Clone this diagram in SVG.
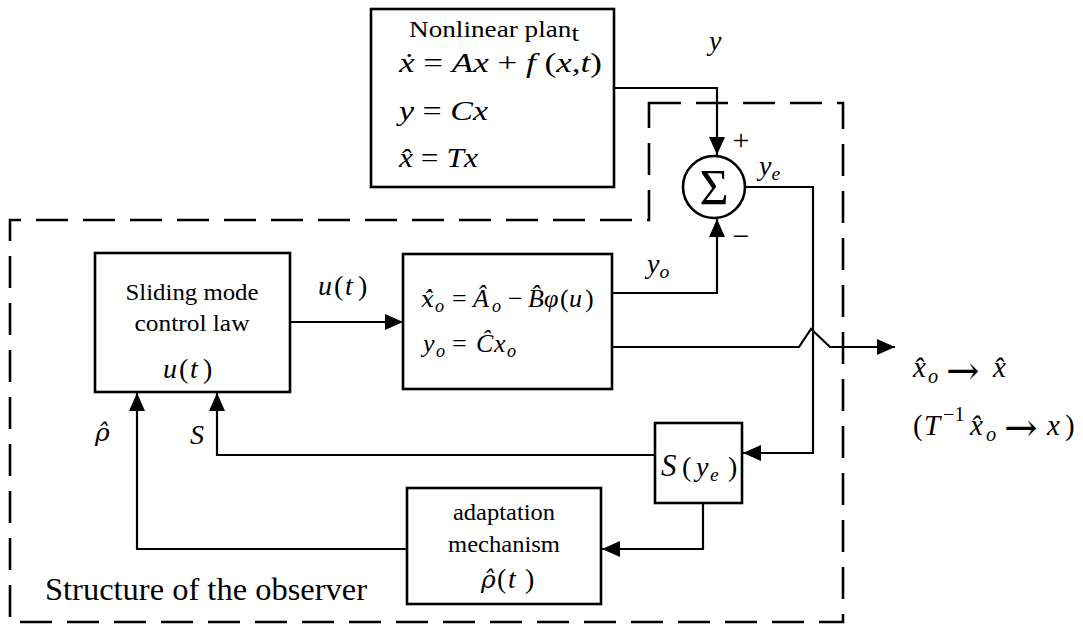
<svg xmlns="http://www.w3.org/2000/svg" width="1083" height="625" viewBox="0 0 1083 625">
<style>
.box{fill:#fff;stroke:#000;stroke-width:2.6}
.ln{fill:none;stroke:#000;stroke-width:2.2}
.dash{fill:none;stroke:#000;stroke-width:2.6;stroke-dasharray:32 15}
text{font-family:"Liberation Serif","Times New Roman",serif;fill:#000}
.it{font-style:italic}
.sub{font-size:70%}
.dj{font-family:"DejaVu Serif",serif}
</style>
<defs>
<marker id="arr" markerUnits="userSpaceOnUse" markerWidth="18" markerHeight="16" refX="18" refY="8" orient="auto">
<path d="M0,0 L18,8 L0,16 z" fill="#000"/>
</marker>
</defs>
<rect width="1083" height="625" fill="#fff"/>

<g id="boundary">
<path class="dash" d="M649,103 H843 V622 H10 V220 H649 Z"/>
<text x="45" y="600" font-size="32" textLength="322" lengthAdjust="spacingAndGlyphs">Structure of the observer</text>
</g>

<g id="connectors">
<path class="ln" d="M614,88 H717 V155" marker-end="url(#arr)"/>
<path class="ln" d="M612,293 H717 V219" marker-end="url(#arr)"/>
<path class="ln" d="M745,187 H813 V453 H743" marker-end="url(#arr)"/>
<path class="ln" d="M612,347 H799 L811,329 L830,347 H895" marker-end="url(#arr)"/>
<path class="ln" d="M290,322 H403" marker-end="url(#arr)"/>
<path class="ln" d="M655,455 H217 V393" marker-end="url(#arr)"/>
<path class="ln" d="M703,503 V549 H602" marker-end="url(#arr)"/>
<path class="ln" d="M407,549 H137 V393" marker-end="url(#arr)"/>
</g>

<g id="plant">
<rect class="box" x="371" y="9" width="243" height="178"/>
<text x="409" y="37" font-size="23" textLength="170" lengthAdjust="spacingAndGlyphs">Nonlinear plan<tspan dy="4">t</tspan></text>
<text x="399" y="72" font-size="28" textLength="203" lengthAdjust="spacingAndGlyphs"><tspan class="it">ẋ</tspan> = <tspan class="it">Ax</tspan> + <tspan class="it">f</tspan> (<tspan class="it">x</tspan>,<tspan class="it">t</tspan>)</text>
<text x="399" y="120" font-size="28" textLength="89" lengthAdjust="spacingAndGlyphs"><tspan class="it">y</tspan> = <tspan class="it">Cx</tspan></text>
<text x="399" y="167" font-size="28" textLength="79" lengthAdjust="spacingAndGlyphs"><tspan class="it">x̂</tspan> = <tspan class="it">Tx</tspan></text>
</g>

<g id="sum">
<circle cx="714" cy="187" r="31" fill="#fff" stroke="#000" stroke-width="2.6"/>
<text x="714" y="204" font-size="50" text-anchor="middle">Σ</text>
</g>

<g id="sliding">
<rect class="box" x="95" y="253" width="195" height="139"/>
<text x="192" y="300" font-size="23" text-anchor="middle" textLength="133" lengthAdjust="spacingAndGlyphs">Sliding mode</text>
<text x="192" y="331" font-size="23" text-anchor="middle" textLength="115" lengthAdjust="spacingAndGlyphs">control  law</text>
<text y="378" font-size="28"><tspan class="it" x="163">u</tspan><tspan x="179">(</tspan><tspan class="it" x="190">t</tspan><tspan x="203">)</tspan></text>
</g>

<g id="observer">
<rect class="box" x="403" y="254" width="209" height="135"/>
<text font-size="26"><tspan class="it dj" x="421" y="307" font-size="23">x̂̇</tspan><tspan class="it sub" x="435" y="312">o</tspan><tspan x="452" y="307">=</tspan><tspan class="it" x="473">Â</tspan><tspan class="it sub" x="492" y="312">o</tspan><tspan x="508" y="307">−</tspan><tspan class="it" x="528">B̂</tspan><tspan class="it" x="544">φ</tspan><tspan x="560">(</tspan><tspan class="it" x="569">u</tspan><tspan x="585">)</tspan></text>
<text font-size="26"><tspan class="it" x="423" y="352">y</tspan><tspan class="it sub" x="436" y="357">o</tspan><tspan x="452" y="352">=</tspan><tspan class="it" x="476">Ĉ</tspan><tspan class="it" x="494">x</tspan><tspan class="it sub" x="507" y="357">o</tspan></text>
</g>

<g id="s-function">
<rect class="box" x="655" y="423" width="87" height="80"/>
<text font-size="28"><tspan class="it" x="661" y="476" font-size="31">S</tspan><tspan x="682">(</tspan><tspan class="it" x="696">y</tspan><tspan class="it sub" x="710" y="481">e</tspan><tspan x="728" y="476">)</tspan></text>
</g>

<g id="adaptation">
<rect class="box" x="407" y="488" width="194" height="116"/>
<text x="504" y="520" font-size="23" text-anchor="middle" textLength="102" lengthAdjust="spacingAndGlyphs">adaptation</text>
<text x="504" y="552" font-size="23" text-anchor="middle" textLength="112" lengthAdjust="spacingAndGlyphs">mechanism</text>
<text font-size="28"><tspan class="it dj" x="481" y="588" font-size="25">ρ̂</tspan><tspan x="497">(</tspan><tspan class="it" x="508">t</tspan><tspan x="525">)</tspan></text>
</g>

<g id="labels">
<text x="709" y="50" font-size="28" class="it">y</text>
<text x="741" y="150" font-size="30" text-anchor="middle">+</text>
<text x="741" y="246" font-size="30" text-anchor="middle">−</text>
<text x="759" y="175" font-size="28"><tspan class="it">y</tspan><tspan class="it sub" dy="5">e</tspan></text>
<text x="647" y="273" font-size="28"><tspan class="it">y</tspan><tspan class="it sub" dy="5">o</tspan></text>
<text y="295" font-size="28"><tspan class="it" x="318">u</tspan><tspan x="334">(</tspan><tspan class="it" x="345">t</tspan><tspan x="358">)</tspan></text>
<text x="95" y="441" font-size="25" class="it dj">ρ̂</text>
<text x="190" y="444" font-size="28" class="it">S</text>
<text font-size="29"><tspan class="it" x="913" y="377">x̂</tspan><tspan class="it sub" x="928" y="383">o</tspan></text>
<text x="946" y="384" font-size="40" class="dj">→</text>
<text x="993" y="377" font-size="29" class="it">x̂</text>
<text font-size="29"><tspan x="913" y="435">(</tspan><tspan class="it" x="924">T</tspan><tspan class="sub" x="943" y="421">−1</tspan><tspan class="it" x="970" y="435">x̂</tspan><tspan class="it sub" x="986" y="441">o</tspan></text>
<text x="1004" y="441" font-size="40" class="dj">→</text>
<text font-size="29"><tspan class="it" x="1047" y="435">x</tspan><tspan x="1065">)</tspan></text>
</g>
</svg>
